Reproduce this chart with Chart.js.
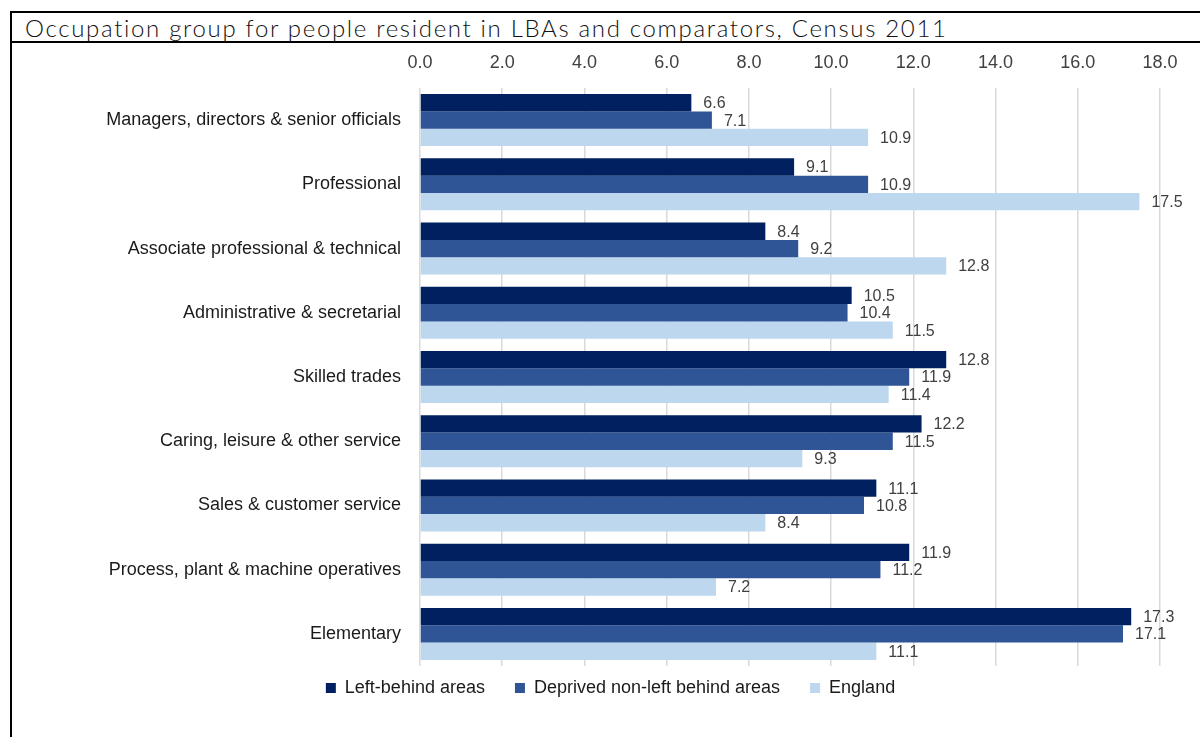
<!DOCTYPE html>
<html>
<head>
<meta charset="utf-8">
<title>Occupation group, Census 2011</title>
<script src="https://cdn.jsdelivr.net/npm/chart.js@4.4.1/dist/chart.umd.min.js"></script>
<style>
  html, body { margin: 0; padding: 0; background: #fff; }
  #page { position: relative; width: 1200px; height: 737px; overflow: hidden; }
  #frame { position: absolute; left: 10px; top: 11px; width: 1200px; height: 740px;
           border-top: 2px solid #000; border-left: 2px solid #000; }
  #titleBar { position: absolute; left: 10px; top: 41px; width: 1200px; border-top: 2px solid #000; }
  #title { position: absolute; left: 25px; top: 16px; white-space: nowrap; line-height: 1;
           font-family: Lato, "Open Sans", sans-serif; font-weight: 300; font-size: 24px; color: #111; }
  #chart { position: absolute; left: 0; top: 0; }
</style>
</head>
<body>
<div id="page">
  <div id="frame"></div>
  <div id="titleBar"></div>
  <span id="title">Occupation group for people resident in LBAs and comparators, Census 2011</span>
  <canvas id="chart" width="1200" height="737"></canvas>
</div>
<script>
/* ==== data ========================================================= */
const categories = [
  'Managers, directors & senior officials',
  'Professional',
  'Associate professional & technical',
  'Administrative & secretarial',
  'Skilled trades',
  'Caring, leisure & other service',
  'Sales & customer service',
  'Process, plant & machine operatives',
  'Elementary'
];
const leftBehind = [6.6, 9.1, 8.4, 10.5, 12.8, 12.2, 11.1, 11.9, 17.3];
const deprivedNonLB = [7.1, 10.9, 9.2, 10.4, 11.9, 11.5, 10.8, 11.2, 17.1];
const england = [10.9, 17.5, 12.8, 11.5, 11.4, 9.3, 8.4, 7.2, 11.1];
const seriesNames = ['Left-behind areas', 'Deprived non-left behind areas', 'England'];
const seriesColors = ['#002060', '#2f5597', '#bdd7ee'];
const xMax = 18, xStep = 2;

const FONT = '"Liberation Sans", Arial, sans-serif';

/* ==== title width ================================================== */
// spread the title out to run most of the bar width
const title = document.getElementById('title');
const tw = title.getBoundingClientRect().width;
title.style.letterSpacing = ((923 - tw) / title.textContent.length) + 'px';

/* ==== plugins ====================================================== */
// value labels just past the end of each bar
const valueLabels = {
  id: 'valueLabels',
  afterDatasetsDraw(chart) {
    const { ctx } = chart;
    ctx.save();
    ctx.font = '16px ' + FONT;
    ctx.fillStyle = '#404040';
    ctx.textAlign = 'left';
    ctx.textBaseline = 'middle';
    chart.data.datasets.forEach((ds, i) => {
      chart.getDatasetMeta(i).data.forEach((bar, j) => {
        ctx.fillText(ds.data[j].toFixed(1), bar.x + 12, bar.y + 1);
      });
    });
    ctx.restore();
  }
};

// pull the legend row up close under the plot
const legendRow = {
  id: 'legendRow',
  afterLayout(chart) {
    const lg = chart.legend;
    const h = lg.height;
    lg.top = 649;
    lg.bottom = lg.top + h;
  }
};

/* ==== chart ======================================================== */
const chart = new Chart(document.getElementById('chart'), {
  type: 'bar',
  data: {
    labels: categories,
    datasets: [leftBehind, deprivedNonLB, england].map((d, i) => ({
      label: seriesNames[i],
      data: d,
      backgroundColor: seriesColors[i],
      borderWidth: 0,
      categoryPercentage: 0.81,
      barPercentage: 1
    }))
  },
  options: {
    indexAxis: 'y',
    responsive: false,
    animation: false,
    layout: { padding: { left: 61, right: 40, top: 0, bottom: 0 } },
    plugins: {
      tooltip: { enabled: false },
      legend: {
        position: 'bottom',
        labels: {
          boxWidth: 10, boxHeight: 10, padding: 30,
          color: '#1a1a1a',
          font: { family: FONT, size: 18 }
        }
      }
    },
    scales: {
      x: {
        position: 'top',
        min: 0, max: xMax,
        afterFit: s => { s.height = 88; },
        border: { display: false },
        grid: { color: '#d9d9d9', lineWidth: 1.5, drawTicks: false },
        ticks: {
          stepSize: xStep, padding: 14, color: '#404040',
          font: { family: FONT, size: 18 },
          callback: v => v.toFixed(1)
        }
      },
      y: {
        afterFit: s => { s.width = 359; },
        border: { display: false },
        grid: { display: false, drawTicks: false },
        ticks: {
          padding: 19, color: '#1a1a1a',
          font: { family: FONT, size: 18 }
        }
      }
    }
  },
  plugins: [valueLabels, legendRow]
});

// keep the plot bottom at a fixed line whatever the legend height
chart.options.layout.padding.bottom += chart.chartArea.bottom - 666;
chart.update();
</script>
</body>
</html>
